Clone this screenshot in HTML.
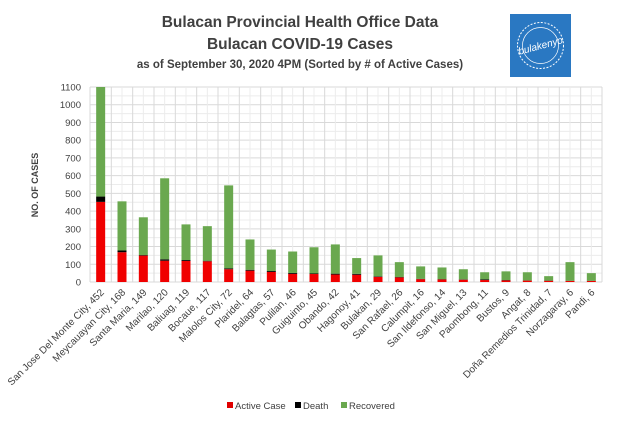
<!DOCTYPE html>
<html><head><meta charset="utf-8">
<style>
body{margin:0;background:#fff;}
svg{display:block;font-family:"Liberation Sans",sans-serif;}
</style></head>
<body>
<svg id="chart" width="617" height="423" viewBox="0 0 617 423">
<rect x="0" y="0" width="617" height="423" fill="#fff"/>
<text x="300" y="27" text-anchor="middle" font-size="15.5" font-weight="bold" fill="#404040">Bulacan Provincial Health Office Data</text>
<text x="300" y="49" text-anchor="middle" font-size="15.5" font-weight="bold" fill="#404040">Bulacan COVID-19 Cases</text>
<text x="300" y="68" text-anchor="middle" font-size="11.5" font-weight="bold" fill="#404040">as of September 30, 2020 4PM (Sorted by # of Active Cases)</text>
<g>
<rect x="510" y="14" width="61" height="63" fill="#2a78c2"/>
<circle cx="540.5" cy="45.5" r="23" fill="none" stroke="#fff" stroke-width="1" stroke-dasharray="2 1.5"/>
<circle cx="540.5" cy="45.5" r="18" fill="none" stroke="#fff" stroke-width="0.7"/>
<text x="540.5" y="49" text-anchor="middle" font-size="10" font-style="italic" fill="#fff" transform="rotate(-15 540.5 45.5)">bulakenyo</text>
</g>
<text transform="translate(38,185) rotate(-90)" text-anchor="middle" font-size="9" font-weight="bold" fill="#404040">NO. OF CASES</text>
<g id="grid"></g><g id="bars"></g><g id="ylabels"></g><g id="xlabels"></g>
<g>
<rect x="227" y="402" width="6" height="6" fill="#e00000"/>
<text x="235" y="409" font-size="9.5" fill="#404040">Active Case</text>
<rect x="295" y="402" width="6" height="6" fill="#000"/>
<text x="303" y="409" font-size="9.5" fill="#404040">Death</text>
<rect x="341" y="402" width="6" height="6" fill="#6aa84f"/>
<text x="349" y="409" font-size="9.5" fill="#404040">Recovered</text>
</g>
</svg>
<script>
const categories=["San Jose Del Monte City","Meycauayan City","Santa Maria","Marilao","Baliuag","Bocaue","Malolos City","Plaridel","Balagtas","Pulilan","Guiguinto","Obando","Hagonoy","Bulakan","San Rafael","Calumpit","San Ildefonso","San Miguel","Paombong","Bustos","Angat","Doña Remedios Trinidad","Norzagaray","Pandi"];
const active=[452,168,149,120,119,117,72,64,57,46,45,42,41,29,26,16,14,13,11,9,8,7,6,6];
const deaths=[30,10,3,8,5,3,5,5,5,5,3,5,5,3,2,2,2,2,4,2,1,1,1,1];
const recovered=[618,277,213,457,201,195,468,171,121,121,148,165,89,118,84,70,66,57,40,49,46,25,105,43];
const yTicks=[0,100,200,300,400,500,600,700,800,900,1000,1100];
const NS="http://www.w3.org/2000/svg";
const X0=90,X1=602,Y0=282,Y1=87,YMAX=1100;
const bw=(X1-X0)/categories.length;
function y(v){return Y0-(Math.min(v,YMAX)/YMAX)*(Y0-Y1);}
function xc(i){return X0+bw*(i+0.5);}
function mk(tag,attrs,parent){const e=document.createElementNS(NS,tag);for(const k in attrs)e.setAttribute(k,attrs[k]);parent.appendChild(e);return e;}
const grid=document.getElementById('grid'),bars=document.getElementById('bars'),yl=document.getElementById('ylabels'),xl=document.getElementById('xlabels');
for(let v=0;v<=YMAX;v+=50){const l=mk('line',{x1:X0,x2:X1,y1:y(v),y2:y(v),stroke:v%100?'#ececec':'#d9d9d9','stroke-width':1},grid);

}
for(let i=0;i<=categories.length*2;i++){const x=X0+bw*i/2;const l=mk('line',{x1:x,x2:x,y1:Y1,y2:Y0,stroke:i%2?'#ececec':'#d9d9d9','stroke-width':1},grid);

}
yTicks.forEach(v=>{const t=mk('text',{x:X0-9,y:y(v)+3.5,'text-anchor':'end','font-size':9.5,fill:'#404040'},yl);t.textContent=v;

});
categories.forEach((c,i)=>{
 const w=9,x=xc(i)-w/2;
 const a=active[i],d=deaths[i],r=recovered[i];
 const ra=mk('rect',{x:x,y:y(a),width:w,height:y(0)-y(a),fill:'#f00000'},bars);
 
 
 const rd=mk('rect',{x:x,y:y(a+d),width:w,height:y(a)-y(a+d),fill:'#000'},bars);
 
 
 const rr=mk('rect',{x:x,y:y(a+d+r),width:w,height:y(a+d)-y(a+d+r),fill:'#6aa84f'},bars);
 
 
 const t=mk('text',{transform:`translate(${xc(i)+4},${Y0+11}) rotate(-45)`,'text-anchor':'end','font-size':10,fill:'#404040'},xl);
 t.textContent=c+', '+a;
 
 
});
</script>
</body></html>
